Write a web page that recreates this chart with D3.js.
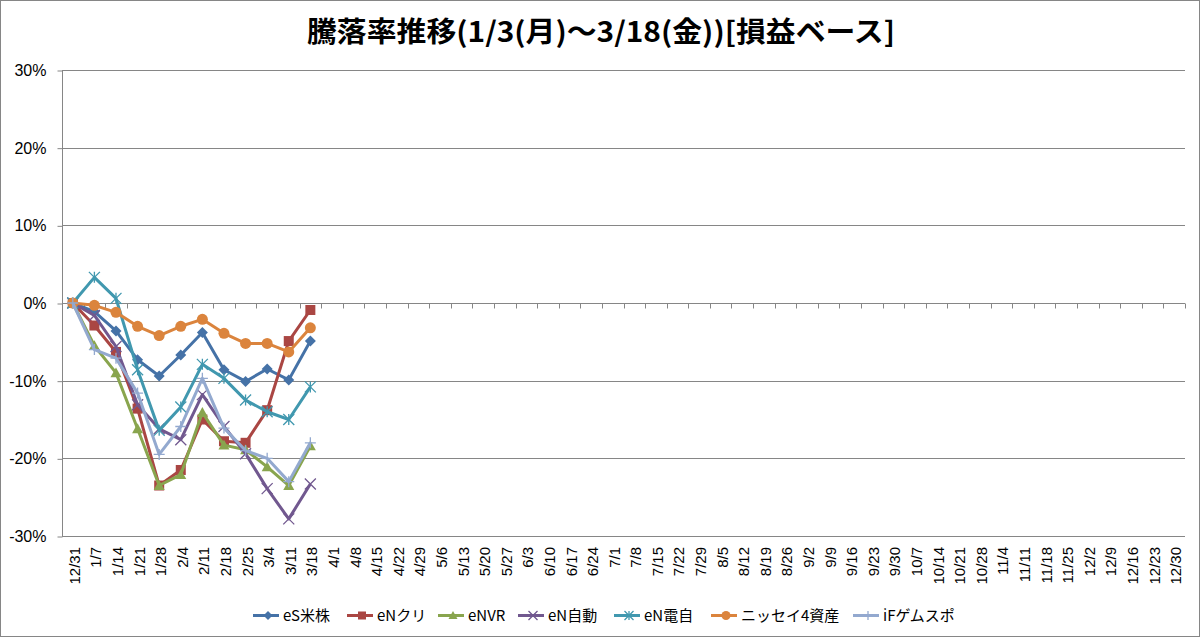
<!DOCTYPE html>
<html>
<head>
<meta charset="utf-8">
<script src="https://cdn.jsdelivr.net/npm/d3@7"></script>
<style>
  body { margin: 0; background: #fff; }
  svg { display: block; font-family: "Noto Sans CJK JP", "Liberation Sans", sans-serif; }
</style>
</head>
<body>
<svg id="chart" width="1200" height="637"></svg>
<script>
var weeks = ["12/31","1/7","1/14","1/21","1/28","2/4","2/11","2/18","2/25","3/4","3/11","3/18",
             "4/1","4/8","4/15","4/22","4/29","5/6","5/13","5/20","5/27","6/3","6/10","6/17","6/24",
             "7/1","7/8","7/15","7/22","7/29","8/5","8/12","8/19","8/26","9/2","9/9","9/16","9/23","9/30",
             "10/7","10/14","10/21","10/28","11/4","11/11","11/18","11/25","12/2","12/9","12/16","12/23","12/30"];

var seriesNames = ["eS米株","eNクリ","eNVR","eN自動","eN電自","ニッセイ4資産","iFゲムスポ"];
var seriesColors = ["#4572A7","#AA4643","#89A54E","#71588F","#4198AF","#DB843D","#93A9CF"];
var seriesMarkers = ["diamond","square","triangle","x","star","circle","plus"];

// values in % per week, only the first 12 weeks are filled
var esBeikabu  = [0, -1.1, -3.6, -7.3, -9.4, -6.7, -3.8, -8.6, -10.1, -8.5, -9.9, -4.9];
var enKuri     = [0, -2.9, -6.3, -13.6, -23.5, -21.5, -15.0, -17.8, -18.0, -13.8, -4.9, -0.9];
var enVR       = [0, -5.5, -9.0, -16.2, -23.5, -22.1, -14.1, -18.3, -18.9, -21.1, -23.5, -18.4];
var enJidou    = [0, -1.6, -5.6, -13.1, -16.2, -17.6, -11.8, -15.9, -19.4, -23.9, -27.8, -23.3];
var enDenji    = [0, 3.3, 0.6, -8.6, -16.4, -13.4, -7.9, -9.7, -12.5, -14.0, -15.0, -10.8];
var nissei4    = [0, -0.3, -1.2, -3.0, -4.2, -3.0, -2.1, -3.9, -5.2, -5.2, -6.3, -3.2];
var ifGame     = [0, -6.0, -7.1, -11.6, -19.5, -15.9, -9.7, -16.1, -19.0, -20.0, -23.0, -18.0];

var allValues = [esBeikabu, enKuri, enVR, enJidou, enDenji, nissei4, ifGame];
var yTicks = [30, 20, 10, 0, -10, -20, -30];

var svg = d3.select("#chart");
var W = 1200, H = 637;
var margin = {left: 62, right: 15, top: 70, bottom: 101};

svg.append("rect")
   .attr("x", 0.5).attr("y", 0.5)
   .attr("width", W - 1).attr("height", H - 1)
   .attr("fill", "#fff")
   .attr("stroke", "#868686");

var x = d3.scaleBand()
          .domain(weeks)
          .range([margin.left, W - margin.right]);

var y = d3.scaleLinear()
          .domain([-30, 30])
          .range([H - margin.bottom, margin.top]);

// title
svg.append("text")
   .attr("x", 601)
   .attr("y", 42)
   .attr("text-anchor", "middle")
   .attr("font-size", 28)
   .attr("font-weight", 700)
   .attr("textLength", 588)
   .attr("lengthAdjust", "spacingAndGlyphs")
   .attr("fill", "#000")
   .text("騰落率推移(1/3(月)～3/18(金))[損益ベース]");

// gridlines
svg.append("g")
   .selectAll("line")
   .data(yTicks)
   .enter()
   .append("line")
   .attr("x1", margin.left)
   .attr("x2", W - margin.right)
   .attr("y1", function(d) { return Math.round(y(d)) + 0.5; })
   .attr("y2", function(d) { return Math.round(y(d)) + 0.5; })
   .attr("stroke", "#868686")
   .attr("stroke-width", 1);

// y axis
var yAxis = d3.axisLeft(y)
              .tickValues(yTicks)
              .tickSize(5)
              .tickPadding(11)
              .tickFormat(function(d) { return d + "%"; });

var yG = svg.append("g")
            .attr("transform", "translate(" + (margin.left + 0.5) + ",0.5)")
            .call(yAxis);
yG.selectAll("line, path").attr("stroke", "#868686");
yG.select(".domain").attr("d", "M0," + y(30) + "V" + y(-30));
yG.selectAll("text")
  .attr("font-size", 16)
  .attr("font-family", "'Liberation Sans', sans-serif")
  .attr("fill", "#000");

// x axis sits on the 0% line, labels down at the bottom
var y0 = Math.round(y(0)) + 0.5;
svg.append("g")
   .selectAll("line")
   .data(weeks.concat(["end"]))
   .enter()
   .append("line")
   .attr("x1", function(d, i) { return Math.round(margin.left + i * x.step()) + 0.5; })
   .attr("x2", function(d, i) { return Math.round(margin.left + i * x.step()) + 0.5; })
   .attr("y1", y0)
   .attr("y2", y0 + 5)
   .attr("stroke", "#868686");

svg.append("g")
   .selectAll("text")
   .data(weeks)
   .enter()
   .append("text")
   .attr("transform", function(d) {
     return "translate(" + [x(d) + x.bandwidth() / 2 + 7, y(-30) + 11] + ") rotate(-90)";
   })
   .attr("text-anchor", "end")
   .attr("font-size", 15)
   .attr("font-family", "'Liberation Sans', sans-serif")
   .attr("fill", "#000")
   .text(function(d) { return d; });

// markers
function drawMarker(g, type, color, size) {
  var s = size;
  if (type == "diamond") {
    g.append("path").attr("d", "M0," + (-s) + "L" + s + ",0L0," + s + "L" + (-s) + ",0Z").attr("fill", color);
  } else if (type == "square") {
    g.append("rect").attr("x", -s + 0.5).attr("y", -s + 0.5).attr("width", 2 * s - 1).attr("height", 2 * s - 1).attr("fill", color);
  } else if (type == "triangle") {
    g.append("path").attr("d", "M0," + (-s) + "L" + s + "," + (s * 0.8) + "L" + (-s) + "," + (s * 0.8) + "Z").attr("fill", color);
  } else if (type == "circle") {
    g.append("circle").attr("r", s).attr("fill", color);
  } else if (type == "x") {
    g.append("path").attr("d", "M" + (-s) + "," + (-s) + "L" + s + "," + s + "M" + s + "," + (-s) + "L" + (-s) + "," + s)
     .attr("stroke", color).attr("stroke-width", 1.3).attr("fill", "none");
  } else if (type == "star") {
    g.append("path").attr("d", "M" + (-s) + "," + (-s) + "L" + s + "," + s + "M" + s + "," + (-s) + "L" + (-s) + "," + s + "M0," + (-s) + "L0," + s)
     .attr("stroke", color).attr("stroke-width", 1.3).attr("fill", "none");
  } else if (type == "plus") {
    g.append("path").attr("d", "M" + (-s) + ",0L" + s + ",0M0," + (-s) + "L0," + s)
     .attr("stroke", color).attr("stroke-width", 1.3).attr("fill", "none");
  }
}

var line = d3.line()
             .x(function(d, i) { return x(weeks[i]) + x.bandwidth() / 2; })
             .y(function(d) { return y(d); });

var plot = svg.append("g").attr("id", "series");

allValues.forEach(function(vals, k) {
  var g = plot.append("g");
  g.append("path")
   .datum(vals)
   .attr("d", line)
   .attr("fill", "none")
   .attr("stroke", seriesColors[k])
   .attr("stroke-width", 3)
   .attr("stroke-linejoin", "round");
  vals.forEach(function(v, i) {
    var m = g.append("g")
             .attr("transform", "translate(" + [x(weeks[i]) + x.bandwidth() / 2, y(v)] + ")");
    drawMarker(m, seriesMarkers[k], seriesColors[k], 5.5);
  });
});

// legend
var legendX = [253, 347, 438, 518, 614, 711, 853];
var legend = svg.append("g").attr("id", "legend");
seriesNames.forEach(function(name, k) {
  var lg = legend.append("g")
                 .attr("transform", "translate(" + [legendX[k], 615.5] + ")");
  lg.append("line")
    .attr("x1", 0).attr("x2", 26)
    .attr("stroke", seriesColors[k])
    .attr("stroke-width", 3);
  var m = lg.append("g").attr("transform", "translate(15,0)");
  drawMarker(m, seriesMarkers[k], seriesColors[k], 4.5);
  lg.append("text")
    .attr("x", 30)
    .attr("y", 5.5)
    .attr("font-size", 15)
    .attr("fill", "#000")
    .text(name);
});
</script>
</body>
</html>
